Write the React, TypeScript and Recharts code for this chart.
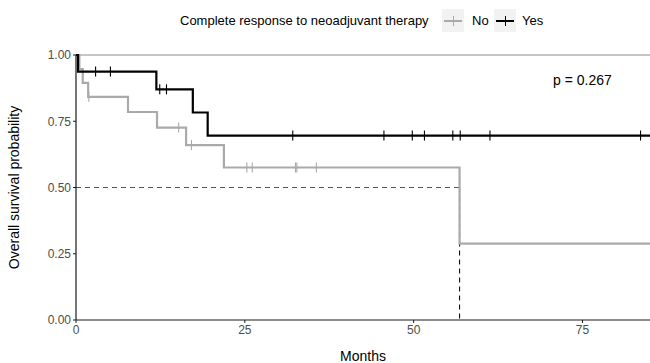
import React from 'react';
import { ComposedChart, Line, XAxis, YAxis, ReferenceLine } from 'recharts';

// Kaplan-Meier step curves (months, survival probability)
const yesTimes = [0, 0.3, 11.9, 17.3, 19.5, 85];
const yesSurv = [1, 0.9375, 0.8705, 0.783, 0.696, 0.696];
const noTimes = [0, 0.5, 1.0, 1.8, 7.7, 12.0, 16.3, 21.9, 56.8, 85];
const noSurv = [1, 0.947, 0.895, 0.842, 0.785, 0.726, 0.66, 0.5755, 0.288, 0.288];

// Censoring times
const yesCensorTimes = [2.9, 5.1, 12.4, 13.4, 32.1, 45.6, 49.8, 51.6, 55.8, 56.9, 61.3, 83.6];
const noCensorTimes = [1.9, 15.2, 17.1, 25.3, 26.1, 32.5, 32.7, 35.6];

const xTicks = [0, 25, 50, 75];
const yTicks = [0, 0.25, 0.5, 0.75, 1];
const medianTime = 56.8;
const medianSurv = 0.5;
const pValueText = 'p = 0.267';
const legendTitle = 'Complete response to neoadjuvant therapy';
const groupNames = ['No', 'Yes'];

const GREY = '#AAAAAA';
const BLACK = '#000000';
const PLOT_TOP = 55;
const PLOT_BOTTOM = 320;

const toPts = (ts: number[], ss: number[]) => ts.map((t, i) => ({ t, s: ss[i] }));
const survAt = (ts: number[], ss: number[], x: number) => {
  let v = ss[0];
  for (let i = 0; i < ts.length; i++) if (ts[i] <= x) v = ss[i];
  return v;
};

const yesData = toPts(yesTimes, yesSurv);
const noData = toPts(noTimes, noSurv);
const yesCensor = yesCensorTimes.map((t) => ({ t, s: survAt(yesTimes, yesSurv, t) }));
const noCensor = noCensorTimes.map((t) => ({ t, s: survAt(noTimes, noSurv, t) }));

const tickMark = (color: string) => (p: any) => (
  <line
    key={`c-${color}-${p.index}`}
    x1={p.cx}
    x2={p.cx}
    y1={p.cy - 5}
    y2={p.cy + 5}
    stroke={color}
    strokeWidth={1.1}
  />
);

const font = 'Liberation Sans, Arial, sans-serif';

const YLabel = () => {
  const cy = (PLOT_TOP + PLOT_BOTTOM) / 2;
  return (
    <text
      x={14}
      y={cy}
      transform={`rotate(-90, 14, ${cy})`}
      textAnchor="middle"
      dominantBaseline="central"
      fontSize={14}
      fill="#000"
      fontFamily={font}
    >
      Overall survival probability
    </text>
  );
};

export default function App() {
  return (
    <div style={{ position: 'absolute', left: 0, top: 0, width: 650, height: 363, background: '#fff', fontFamily: font }}>
      <ComposedChart
        width={650}
        height={363}
        margin={{ top: PLOT_TOP, right: 0, bottom: 0, left: 0 }}
        style={{ fontFamily: font }}
      >
        <XAxis
          type="number"
          dataKey="t"
          domain={[0, 85]}
          ticks={xTicks}
          allowDataOverflow
          height={43}
          tickSize={3}
          tickMargin={2}
          tick={{ fontSize: 12, fill: '#4D4D4D' }}
          axisLine={{ stroke: '#1a1a1a', strokeWidth: 1.2 }}
          tickLine={{ stroke: '#1a1a1a' }}
          label={{ value: 'Months', position: 'insideBottom', offset: 2, fontSize: 14, fill: '#000' }}
        />
        <YAxis
          type="number"
          dataKey="s"
          domain={[0, 1]}
          ticks={yTicks}
          width={76}
          tickSize={3}
          tickMargin={2}
          tickFormatter={(v: number) => v.toFixed(2)}
          tick={{ fontSize: 12, fill: '#4D4D4D' }}
          axisLine={{ stroke: '#1a1a1a', strokeWidth: 1.2 }}
          tickLine={{ stroke: '#1a1a1a' }}
          label={<YLabel />}
        />
        <ReferenceLine y={1} stroke="#8c8c8c" strokeWidth={1} />
        <ReferenceLine
          segment={[{ x: 0, y: medianSurv }, { x: medianTime, y: medianSurv }]}
          stroke="#555"
          strokeWidth={1.1}
          strokeDasharray="5 4"
        />
        <ReferenceLine
          segment={[{ x: medianTime, y: medianSurv }, { x: medianTime, y: 0 }]}
          stroke="#111"
          strokeWidth={1.1}
          strokeDasharray="5 4"
        />
        <Line
          data={noData}
          dataKey="s"
          type="stepAfter"
          stroke={GREY}
          strokeWidth={2.2}
          dot={false}
          activeDot={false}
          isAnimationActive={false}
        />
        <Line
          data={yesData}
          dataKey="s"
          type="stepAfter"
          stroke={BLACK}
          strokeWidth={2.2}
          dot={false}
          activeDot={false}
          isAnimationActive={false}
        />
        <Line
          data={noCensor}
          dataKey="s"
          stroke="none"
          dot={tickMark(GREY)}
          activeDot={false}
          isAnimationActive={false}
        />
        <Line
          data={yesCensor}
          dataKey="s"
          stroke="none"
          dot={tickMark(BLACK)}
          activeDot={false}
          isAnimationActive={false}
        />
      </ComposedChart>

      <div style={{ position: 'absolute', left: 553, top: 70, fontSize: 14, color: '#000', whiteSpace: 'nowrap', lineHeight: '20px' }}>
        {pValueText}
      </div>

      <div style={{ position: 'absolute', left: 0, top: 9, height: 23, width: 650, fontSize: 13, color: '#000' }}>
        <span style={{ position: 'absolute', left: 180, top: 3, whiteSpace: 'nowrap', lineHeight: '17px' }}>{legendTitle}</span>
        {[GREY, BLACK].map((c, i) => (
          <div key={c} style={{ position: 'absolute', left: i === 0 ? 442 : 494, top: 0, width: 22, height: 23, background: '#F2F2F2' }}>
            <div style={{ position: 'absolute', left: 2, top: 11, width: 18, height: 2, background: c }} />
            <div style={{ position: 'absolute', left: 10.5, top: 7, width: 1.2, height: 10, background: c }} />
          </div>
        ))}
        <span style={{ position: 'absolute', left: 472, top: 3, lineHeight: '17px' }}>{groupNames[0]}</span>
        <span style={{ position: 'absolute', left: 522, top: 3, lineHeight: '17px' }}>{groupNames[1]}</span>
      </div>
    </div>
  );
}
